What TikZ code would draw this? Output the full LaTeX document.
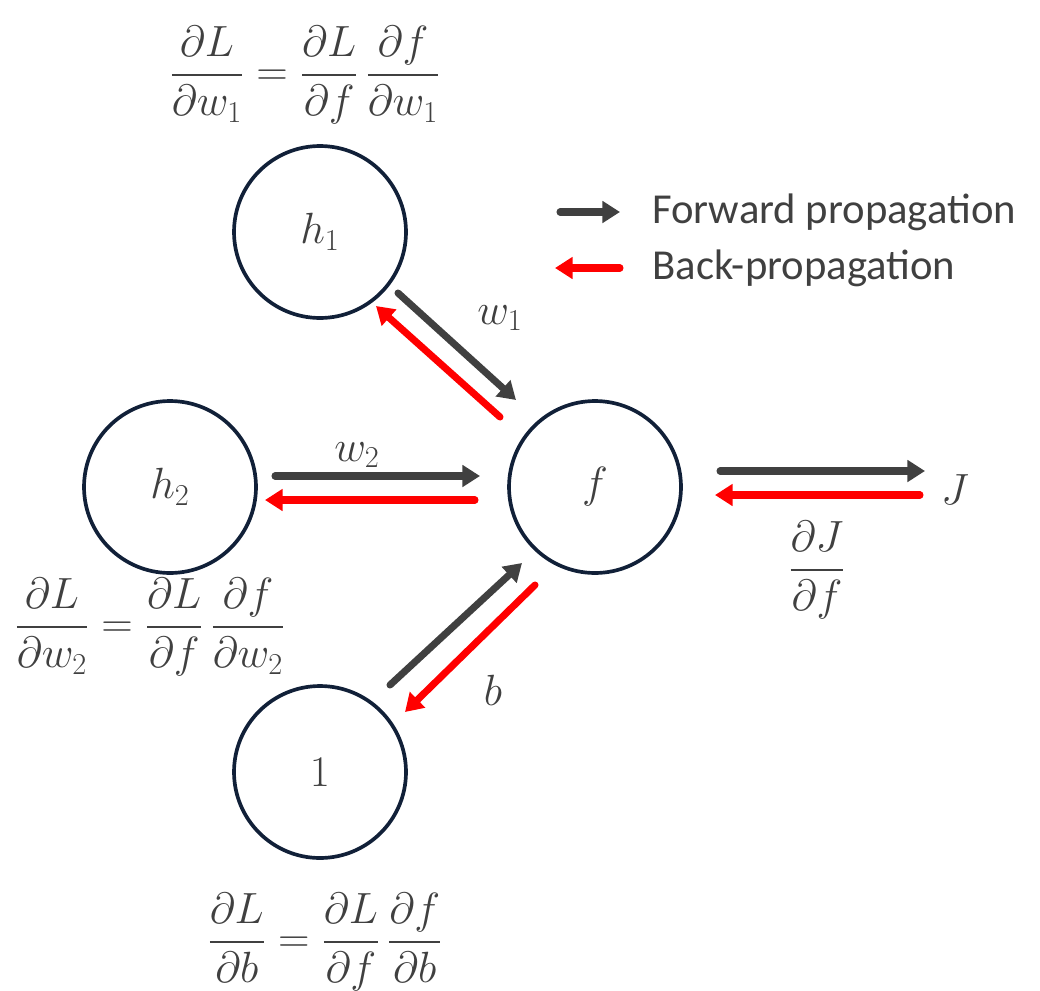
\documentclass[tikz,border=0pt]{standalone}
\usepackage{amsmath}
\usepackage{fontspec}
\setmainfont{Carlito}
\usetikzlibrary{arrows.meta,calc}
\definecolor{fwdgray}{HTML}{404040}
\definecolor{navy}{HTML}{112038}

\begin{document}
\begin{tikzpicture}[
    x=0.02cm, y=-0.02cm,
    neuron/.style={circle, draw=navy, line width=2.1pt, minimum size=3.44cm, inner sep=0pt,
      text=fwdgray, font=\fontsize{24}{28}\selectfont},
    mathlabel/.style={text=fwdgray, font=\fontsize{24}{28}\selectfont, inner sep=0pt},
    fwd/.style={draw=fwdgray, line width=4pt, line cap=round, -{Triangle[length=10pt,width=12pt]}},
    bwd/.style={draw=red, line width=4pt, line cap=round, -{Triangle[length=10pt,width=12pt]}},
  ]
  \useasboundingbox (0,0) rectangle (1040,990);

  % ========= NEURONS =========
  \node[neuron] (h1) at (320,232) {$h_1$};
  \node[neuron] (h2) at (170,487) {$h_2$};
  \node[neuron] (f) at (595,487) {$f$};
  \node[neuron] (one) at (320,772) {$1$};
  \node[mathlabel] (J) at (955,490) {$J$};

  % Gradients
  \node[mathlabel] (gw1) at (305,75)
    {$\dfrac{\partial L}{\partial w_1}=\dfrac{\partial L}{\partial f}\,\dfrac{\partial f}{\partial w_1}$};
  \node[mathlabel] (gw2) at (150,627)
    {$\dfrac{\partial L}{\partial w_2}=\dfrac{\partial L}{\partial f}\,\dfrac{\partial f}{\partial w_2}$};
  \node[mathlabel] (gb) at (325,942)
    {$\dfrac{\partial L}{\partial b}=\dfrac{\partial L}{\partial f}\,\dfrac{\partial f}{\partial b}$};
  \node[mathlabel] (gJ) at (817,570) {$\dfrac{\partial J}{\partial f}$};

  % ========= h1 -- f =========
  \draw[fwd] ($(h1)+(78,61)$) -- ($(f)+(-79,-87)$);
  \draw[bwd] ($(f)+(-95,-70)$) -- ($(h1)+(56,74)$);
  \node[mathlabel] (lw1) at (500,318) {$w_1$};

  % ========= h2 -- f =========
  \draw[fwd] ($(h2)+(105,-11)$) -- ($(f)+(-115,-11)$);
  \draw[bwd] ($(f)+(-120,13)$) -- ($(h2)+(95,13)$);
  \node[mathlabel] (lw2) at (357,455) {$w_2$};

  % ========= 1 -- f =========
  \draw[fwd] ($(one)+(70,-87)$) -- ($(f)+(-73,76)$);
  \draw[bwd] ($(f)+(-60,98)$) -- ($(one)+(85,-60)$);
  \node[mathlabel] (lb) at (493,690) {$b$};

  % ========= f -- J =========
  \draw[fwd] ($(f)+(125,-16)$) -- ($(J)+(-30,-19)$);
  \draw[bwd] ($(J)+(-35,5)$) -- ($(f)+(120,8)$);

  % ========= LEGEND =========
  \node[anchor=west, text=fwdgray, font=\fontsize{24.3}{28}\selectfont, inner sep=0pt] (fwdtxt) at (652,212) {Forward propagation};
  \node[anchor=west, text=fwdgray, font=\fontsize{24.3}{28}\selectfont, inner sep=0pt] (bwdtxt) at (652,268) {Back-propagation};
  \draw[fwd] ($(fwdtxt.west)+(-92,0)$) -- ($(fwdtxt.west)+(-32,0)$);
  \draw[bwd] ($(bwdtxt.west)+(-32,0)$) -- ($(bwdtxt.west)+(-97,0)$);
\end{tikzpicture}
\end{document}
